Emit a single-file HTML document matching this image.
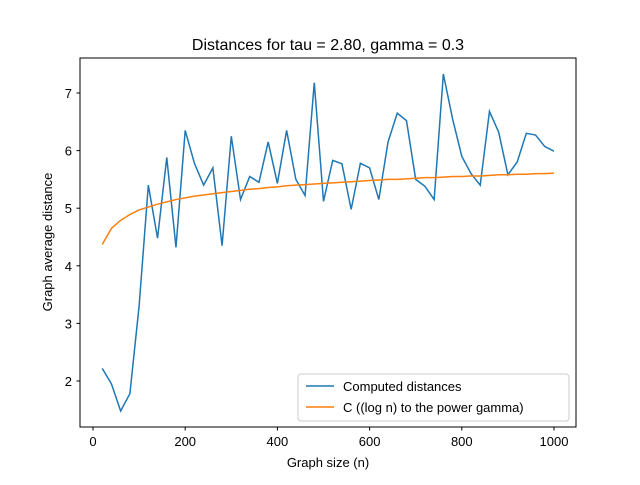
<!DOCTYPE html>
<html><head><meta charset="utf-8"><style>
body{margin:0;background:#fff;font-family:"Liberation Sans","DejaVu Sans",sans-serif;}
</style></head><body>
<svg id="chart" width="640" height="480" xmlns="http://www.w3.org/2000/svg">
<rect width="640" height="480" fill="#fff"/>
<text x="328" y="50" text-anchor="middle" font-size="16">Distances for tau = 2.80, gamma = 0.3</text>
<g id="ticks"></g>
<g id="series"></g>
<rect x="80" y="58" width="496" height="369" fill="none" stroke="#000" stroke-width="1"/>
<text x="328" y="467" text-anchor="middle" font-size="13">Graph size (n)</text>
<text transform="translate(52,242) rotate(-90)" text-anchor="middle" font-size="13">Graph average distance</text>
<g>
<rect x="298" y="374" width="271" height="47" rx="3" fill="#fff" fill-opacity="0.8" stroke="#ccc"/>
<line x1="306" y1="386" x2="334" y2="386" stroke="#1f77b4" stroke-width="1.5"/>
<text x="343" y="391" font-size="13">Computed distances</text>
<line x1="306" y1="407" x2="334" y2="407" stroke="#ff7f0e" stroke-width="1.5"/>
<text x="343" y="412" font-size="13">C ((log n) to the power gamma)</text>
</g>
</svg>
<script>
const nValues=[20,40,60,80,100,120,140,160,180,200,220,240,260,280,300,320,340,360,380,400,420,440,460,480,500,520,540,560,580,600,620,640,660,680,700,720,740,760,780,800,820,840,860,880,900,920,940,960,980,1000];
const computed=[2.22,1.95,1.48,1.78,3.3,5.4,4.48,5.88,4.32,6.35,5.78,5.4,5.7,4.35,6.25,5.15,5.55,5.45,6.15,5.43,6.35,5.5,5.22,7.18,5.12,5.83,5.77,4.98,5.78,5.7,5.15,6.15,6.65,6.52,5.5,5.38,5.15,7.33,6.55,5.9,5.6,5.4,6.68,6.32,5.58,5.8,6.3,6.27,6.07,5.99];
const fitted=[4.37,4.65,4.79,4.89,4.97,5.02,5.07,5.11,5.15,5.18,5.21,5.23,5.25,5.27,5.29,5.31,5.33,5.34,5.36,5.37,5.39,5.40,5.41,5.42,5.43,5.44,5.45,5.46,5.47,5.48,5.49,5.50,5.50,5.51,5.52,5.53,5.53,5.54,5.55,5.55,5.56,5.56,5.57,5.58,5.58,5.59,5.59,5.60,5.60,5.61];
const xTicks=[0,200,400,600,800,1000];
const yTicks=[2,3,4,5,6,7];
const NS="http://www.w3.org/2000/svg";
function xs(v){return 93+v*0.461;}
function ys(v){return 381-(v-2)*57.6;}
const tg=document.getElementById('ticks');
xTicks.forEach(t=>{
 const l=document.createElementNS(NS,'line');
 l.setAttribute('x1',xs(t));l.setAttribute('x2',xs(t));l.setAttribute('y1',427);l.setAttribute('y2',430.5);l.setAttribute('stroke','#000');
 
 
 tg.appendChild(l);
 const tx=document.createElementNS(NS,'text');
 tx.setAttribute('x',xs(t));tx.setAttribute('y',446);tx.setAttribute('text-anchor','middle');tx.setAttribute('font-size','13');tx.textContent=t;
 
 
 tg.appendChild(tx);
});
yTicks.forEach(t=>{
 const l=document.createElementNS(NS,'line');
 l.setAttribute('x1',76.5);l.setAttribute('x2',80);l.setAttribute('y1',ys(t));l.setAttribute('y2',ys(t));l.setAttribute('stroke','#000');
 
 
 tg.appendChild(l);
 const tx=document.createElementNS(NS,'text');
 tx.setAttribute('x',72);tx.setAttribute('y',ys(t)+5);tx.setAttribute('text-anchor','end');tx.setAttribute('font-size','13');tx.textContent=t;
 
 
 tg.appendChild(tx);
});
const sg=document.getElementById('series');
function line(vals,color,name){
 const p=document.createElementNS(NS,'polyline');
 p.setAttribute('points',vals.map((v,i)=>xs(nValues[i])+','+ys(v)).join(' '));
 p.setAttribute('fill','none');p.setAttribute('stroke',color);p.setAttribute('stroke-width','1.5');
 
 
 sg.appendChild(p);
}
line(computed,'#1f77b4','computed-distances-line');
line(fitted,'#ff7f0e','fitted-curve-line');
</script>
</body></html>
